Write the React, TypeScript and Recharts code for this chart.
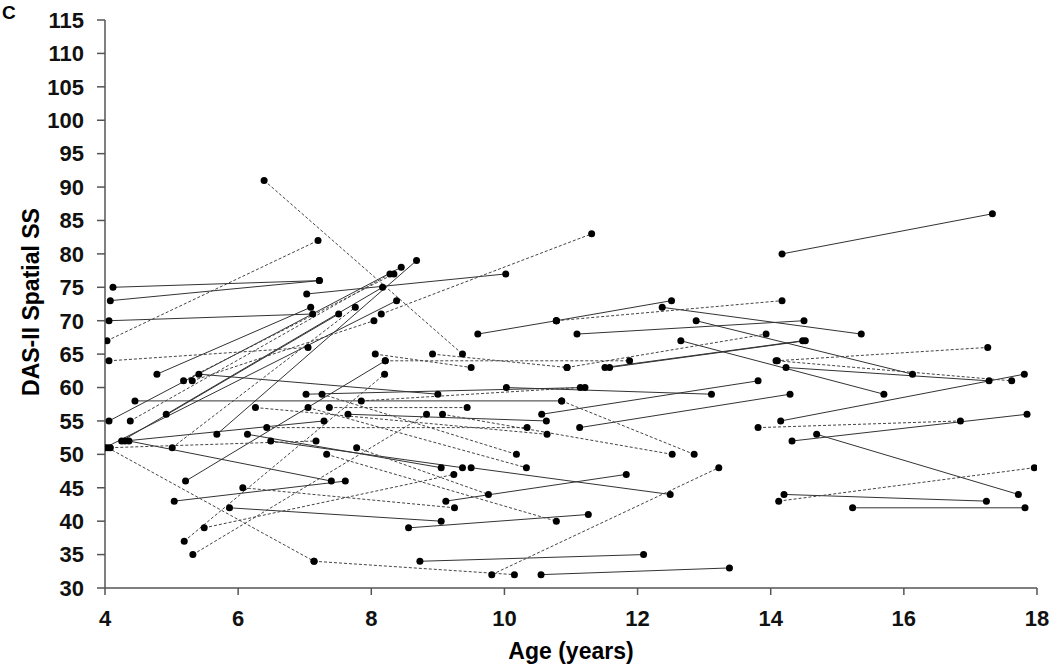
import React from 'react';
import { LineChart, Line, XAxis, YAxis } from 'recharts';

// each row: [first age, first SS, second age, second SS]
const solidPairs: number[][] = [
  [4.12, 75, 7.22, 76], [4.08, 73, 7.22, 76], [4.06, 70, 7.12, 71], [7.03, 74, 10.02, 77],
  [14.17, 80, 17.33, 86], [9.6, 68, 10.78, 70], [10.78, 70, 12.51, 73], [12.37, 72, 15.36, 68],
  [11.09, 68, 14.5, 70], [12.88, 70, 16.13, 62], [12.65, 67, 15.7, 59], [14.23, 63, 17.28, 61],
  [11.58, 63, 14.52, 67], [11.51, 63, 14.48, 67], [14.15, 55, 17.81, 62], [14.32, 52, 17.85, 56],
  [14.69, 53, 17.72, 44], [14.2, 44, 17.24, 43], [15.23, 42, 17.82, 42], [10.56, 56, 13.81, 61],
  [11.13, 54, 14.29, 59], [10.03, 60, 13.11, 59], [8.73, 34, 12.09, 35], [10.55, 32, 13.38, 33],
  [8.56, 39, 11.26, 41], [5.87, 42, 9.05, 40], [9.12, 43, 11.83, 47], [9.5, 48, 12.49, 44],
  [5.04, 43, 7.61, 46], [5.21, 46, 8.21, 64], [5.68, 53, 8.68, 79], [4.78, 62, 7.09, 72],
  [4.06, 55, 8.45, 78], [4.0, 51, 8.38, 73], [4.25, 52, 7.51, 71], [4.36, 52, 7.4, 46],
  [4.3, 52, 7.29, 55], [4.92, 56, 8.17, 75], [5.41, 62, 9.0, 59], [4.45, 58, 10.86, 58],
  [6.49, 52, 9.37, 48], [7.65, 56, 10.63, 55], [7.02, 59, 11.21, 60], [6.14, 53, 9.05, 48],
];

const dashedPairs: number[][] = [
  [4.03, 67, 7.2, 82], [4.06, 64, 7.05, 66], [6.39, 91, 9.37, 65], [8.15, 71, 11.31, 83],
  [10.78, 70, 14.17, 73], [8.21, 64, 11.88, 64], [10.94, 63, 13.93, 68], [8.92, 65, 10.94, 63],
  [8.06, 65, 9.5, 63], [14.08, 64, 17.26, 66], [14.1, 64, 17.62, 61], [13.81, 54, 16.85, 55],
  [14.12, 43, 17.96, 48], [10.86, 58, 12.85, 50], [9.07, 56, 12.52, 50], [9.81, 32, 13.22, 48],
  [7.14, 34, 10.15, 32], [4.04, 51, 7.14, 34], [6.07, 45, 9.25, 42], [5.49, 39, 9.24, 47],
  [5.19, 37, 8.2, 62], [5.32, 35, 8.83, 56], [4.38, 55, 8.28, 77], [5.18, 61, 8.34, 77],
  [5.31, 61, 8.04, 70], [4.08, 51, 7.17, 52], [5.01, 51, 7.76, 72], [6.26, 57, 10.64, 53],
  [7.26, 59, 10.18, 50], [7.05, 57, 10.33, 48], [7.37, 57, 9.44, 57], [7.85, 58, 11.14, 60],
  [6.43, 54, 10.34, 54], [7.33, 50, 10.78, 40], [7.78, 51, 9.76, 44],
];

const xTicks = [4, 6, 8, 10, 12, 14, 16, 18];
const yTicks = [30, 35, 40, 45, 50, 55, 60, 65, 70, 75, 80, 85, 90, 95, 100, 105, 110, 115];

const toPts = (p: number[]) => [
  { age: p[0], ss: p[1] },
  { age: p[2], ss: p[3] },
];

const font = '"Liberation Sans", Arial, sans-serif';
const axisColor = '#555';
const dot = { r: 3.5, fill: '#000', stroke: '#000', strokeWidth: 0 };
const tickStyle = { fontSize: 22, fontWeight: 700, fill: '#111', fontFamily: font };

export default function App() {
  return (
    <div style={{ position: 'absolute', left: 0, top: 0, width: 1050, height: 666, background: '#fff', fontFamily: font }}>
      <div style={{ position: 'absolute', left: 2, top: 2, fontSize: 19, fontWeight: 700 }}>C</div>
      <LineChart width={1050} height={666} margin={{ top: 20, right: 13, left: 0, bottom: 28 }}>
        <XAxis
          type="number" dataKey="age" domain={[4, 18]} ticks={xTicks} allowDataOverflow
          height={50} tickSize={7} tickMargin={15}
          axisLine={{ stroke: axisColor, strokeWidth: 1.5 }} tickLine={{ stroke: axisColor, strokeWidth: 1.5 }}
          tick={tickStyle}
        />
        <YAxis
          type="number" dataKey="ss" domain={[30, 115]} ticks={yTicks} allowDataOverflow
          width={105} tickSize={8} tickMargin={13}
          axisLine={{ stroke: axisColor, strokeWidth: 1.5 }} tickLine={{ stroke: axisColor, strokeWidth: 1.5 }}
          tick={tickStyle}
        />
        {solidPairs.map((p, i) => (
          <Line key={'s' + i} data={toPts(p)} dataKey="ss" type="linear" stroke="#333" strokeWidth={1}
            dot={dot} activeDot={false} isAnimationActive={false} />
        ))}
        {dashedPairs.map((p, i) => (
          <Line key={'d' + i} data={toPts(p)} dataKey="ss" type="linear" stroke="#444" strokeWidth={1}
            strokeDasharray="3 2" dot={dot} activeDot={false} isAnimationActive={false} />
        ))}
      </LineChart>
      <div style={{ position: 'absolute', left: 471, width: 200, top: 638, textAlign: 'center', fontSize: 23, fontWeight: 700 }}>
        Age (years)
      </div>
      <div style={{
        position: 'absolute', left: 31, top: 302, transform: 'translate(-50%, -50%) rotate(-90deg)',
        whiteSpace: 'nowrap', fontSize: 23, fontWeight: 700,
      }}>
        DAS-II Spatial SS
      </div>
    </div>
  );
}
